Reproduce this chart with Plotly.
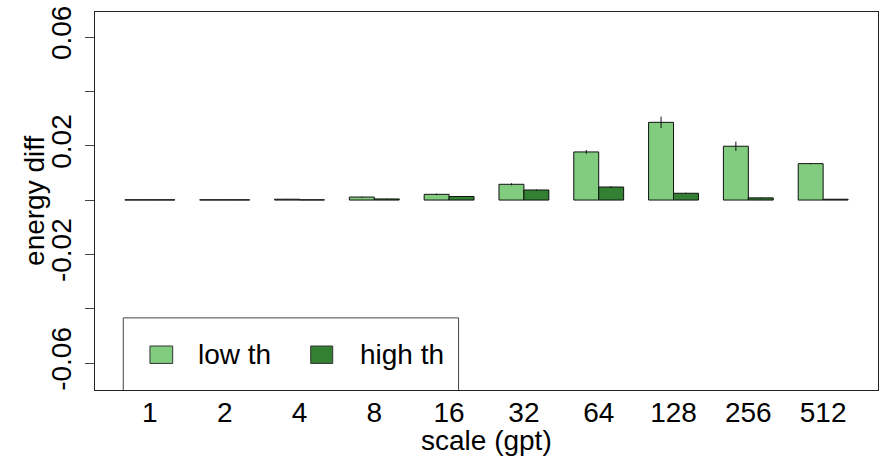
import plotly.graph_objects as go

# Scale labels (gpt) and per-scale energy differences
scales = ["1", "2", "4", "8", "16", "32", "64", "128", "256", "512"]
low_th = [0.0001, 0.0001, 0.0003, 0.0011, 0.0021, 0.0058, 0.0177, 0.0286, 0.0198, 0.0134]
high_th = [0.0001, 0.0001, 0.0001, 0.0004, 0.0013, 0.0037, 0.0048, 0.0025, 0.0008, 0.0003]
low_err = [0.0, 0.0, 0.0001, 0.0002, 0.0003, 0.0004, 0.0007, 0.0021, 0.0017, 0.0002]
high_err = [0.0, 0.0, 0.0, 0.0001, 0.0001, 0.0002, 0.0003, 0.0002, 0.0001, 0.0]

y_ticks = [-0.06, -0.04, -0.02, 0.0, 0.02, 0.04, 0.06]
y_tick_text = ["-0.06", "", "-0.02", "", "0.02", "", "0.06"]

LIGHT = "#81CC7F"
DARK = "#338033"
FONT = "Liberation Sans, Arial, Helvetica, sans-serif"

fig = go.Figure()
fig.add_trace(go.Bar(
    x=scales, y=low_th, name="low th",
    marker=dict(color=LIGHT, line=dict(color="#111111", width=1)),
    error_y=dict(type="data", array=low_err, visible=True,
                 color="#111111", thickness=1, width=0),
))
fig.add_trace(go.Bar(
    x=scales, y=high_th, name="high th",
    marker=dict(color=DARK, line=dict(color="#111111", width=1)),
    error_y=dict(type="data", array=high_err, visible=True,
                 color="#111111", thickness=1, width=0),
))

# Legend box drawn inside the plot area, clipped by its bottom edge
shapes = [
    dict(type="path", xref="paper", yref="paper",
         path="M 0.0361 0 L 0.0361 0.1908 L 0.4643 0.1908 L 0.4643 0",
         line=dict(color="#444444", width=1), fillcolor="white", layer="above"),
    dict(type="rect", xref="paper", yref="paper",
         x0=0.0702, x1=0.0992, y0=0.0703, y1=0.1164,
         line=dict(color="#333333", width=1), fillcolor=LIGHT, layer="above"),
    dict(type="rect", xref="paper", yref="paper",
         x0=0.2755, x1=0.3036, y0=0.0703, y1=0.1164,
         line=dict(color="#333333", width=1), fillcolor=DARK, layer="above"),
]
annotations = [
    dict(text="low th", xref="paper", yref="paper", x=0.1290, y=0.0933,
         xanchor="left", yanchor="middle", showarrow=False,
         font=dict(size=28, color="black", family=FONT)),
    dict(text="high th", xref="paper", yref="paper", x=0.3355, y=0.0933,
         xanchor="left", yanchor="middle", showarrow=False,
         font=dict(size=28, color="black", family=FONT)),
    # axis titles
    dict(text="scale (gpt)", xref="paper", yref="paper", x=0.5, y=-0.134,
         xanchor="center", yanchor="middle", showarrow=False,
         font=dict(size=28, color="black", family=FONT)),
    dict(text="energy diff", xref="paper", yref="paper", x=-0.078, y=0.5,
         xanchor="center", yanchor="middle", showarrow=False, textangle=-90,
         font=dict(size=28, color="black", family=FONT)),
]

fig.update_layout(
    width=885, height=469,
    margin=dict(l=95, r=6, t=9, b=79),
    paper_bgcolor="white", plot_bgcolor="white",
    barmode="group", bargap=1/3, bargroupgap=0,
    showlegend=False,
    font=dict(family=FONT, size=28, color="black"),
    shapes=shapes, annotations=annotations,
    xaxis=dict(
        type="category", range=[-0.7333, 9.7333],
        showline=True, mirror=True, linecolor="#222222", linewidth=1.2,
        showgrid=False, zeroline=False, ticks="",
        ticklabelstandoff=-3,
        tickfont=dict(size=28, family=FONT, color="black"),
    ),
    yaxis=dict(
        range=[-0.0699, 0.0692],
        tickvals=y_ticks, ticktext=y_tick_text, tickangle=-90,
        ticks="outside", ticklen=9, tickcolor="#444444", tickwidth=1,
        ticklabelstandoff=3,
        showline=True, mirror=True, linecolor="#222222", linewidth=1.2,
        showgrid=False, zeroline=False,
        tickfont=dict(size=28, family=FONT, color="black"),
    ),
)

fig.write_html("out.html")
